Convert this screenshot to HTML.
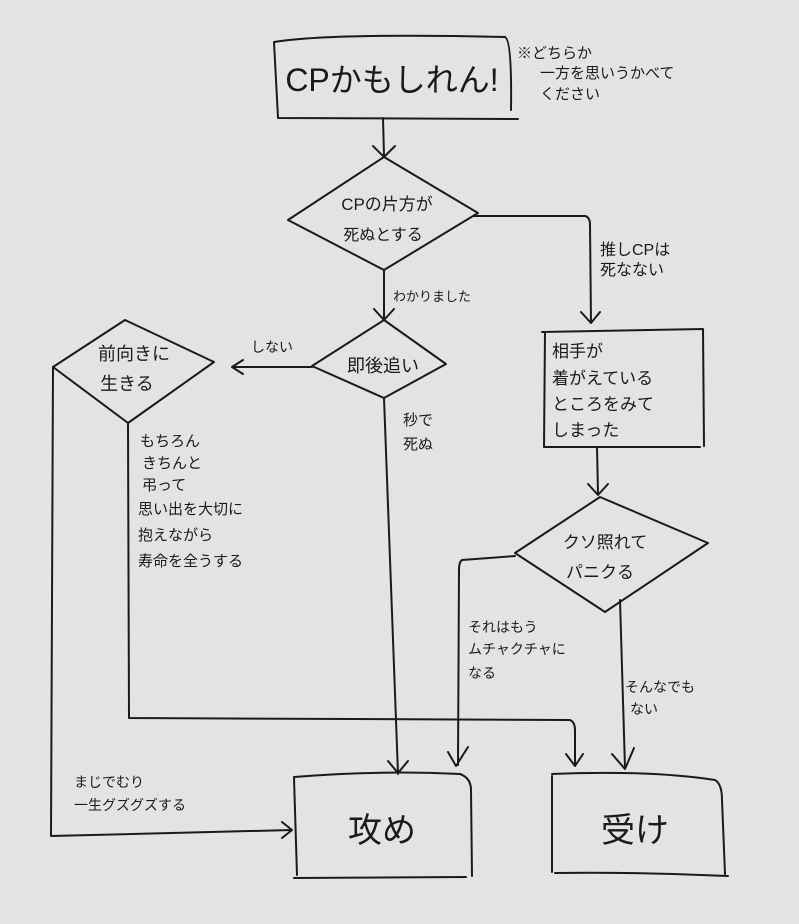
<!DOCTYPE html>
<html><head><meta charset="utf-8">
<style>
html,body{margin:0;padding:0;background:#e3e3e3;}
svg{display:block;}
text{font-family:"Liberation Sans","Noto Sans CJK JP",sans-serif;fill:#1a1a1a;}
</style></head>
<body>
<svg width="799" height="924" viewBox="0 0 799 924" xmlns="http://www.w3.org/2000/svg">
<rect width="799" height="924" fill="#e3e3e3"/>
<g fill="none" stroke="#1a1a1a" stroke-width="2" stroke-linecap="round" stroke-linejoin="round">
<!-- top box -->
<path d="M278,118 L274,42 Q330,33 505,37 Q512,40 511,110 M278,118 L518,119"/>
<!-- arrow to diamond1 -->
<path d="M383,118 L384,156 M373,146 L384,157 L395,146"/>
<!-- diamond1 -->
<path d="M384,157 L288,220 L384,270 L478,213 Z"/>
<!-- right branch -->
<path d="M474,216 L585,216 Q590,217 590,225 L591,322 M581,312 L591,323 L600,312"/>
<!-- down to diamond2 -->
<path d="M384,270 L384,319 M374,309 L384,320 L394,309"/>
<!-- diamond2 -->
<path d="M384,320 L312,366 L384,398 L446,364 Z"/>
<!-- shinai arrow -->
<path d="M312,367 L232,367 M243,360 L232,367 L243,374"/>
<!-- diamond3 -->
<path d="M125,320 L53,367 L128,423 L214,362 Z"/>
<!-- diamond2 down to seme -->
<path d="M384,398 L398,774 M388,761 L398,773 L408,761"/>
<!-- left line -->
<path d="M53,367 L51,836 L292,830 M282,822 L292,830 L282,838"/>
<!-- mid line from diamond3 -->
<path d="M128,423 L129,718 L570,720 Q575,722 575,730 L575,765 M566,754 L575,766 L583,754"/>
<!-- box aite -->
<path d="M542,332 L703,329 L704,446 M545,332 L544,447 L700,447"/>
<!-- arrow to diamond4 -->
<path d="M597,447 L598,494 M588,484 L598,495 L608,484"/>
<!-- diamond4 -->
<path d="M600,497 L515,553 L605,612 L708,543 Z"/>
<!-- left from diamond4 -->
<path d="M515,556 L462,560 Q459,562 459,570 L458,765 M448,752 L456,766 L468,747"/>
<!-- down from diamond4 -->
<path d="M620,600 L625,768 M612,754 L625,769 L634,748"/>
<!-- seme box -->
<path d="M294,778 L297,875 M294,777 Q380,770 460,774 Q471,778 471,790 L472,876 M294,878 L466,877"/>
<!-- uke box -->
<path d="M552,776 L552,872 M552,774 Q650,770 715,780 Q722,784 722,800 L725,874 M555,873 Q640,872 728,876"/>
</g>
<text x="392" y="91" font-size="32" text-anchor="middle">CPかもしれん!</text>
<text x="517" y="58" font-size="15">※どちらか</text>
<text x="540" y="78" font-size="15">一方を思いうかべて</text>
<text x="540" y="99" font-size="15">ください</text>
<text x="387" y="210" font-size="17" text-anchor="middle">CPの片方が</text>
<text x="383" y="240" font-size="16" text-anchor="middle">死ぬとする</text>
<text x="600" y="255" font-size="16">推しCPは</text>
<text x="600" y="275" font-size="16">死なない</text>
<text x="393" y="301" font-size="13">わかりました</text>
<text x="383" y="372" font-size="18" text-anchor="middle">即後追い</text>
<text x="251" y="352" font-size="14">しない</text>
<text x="134" y="360" font-size="18" text-anchor="middle">前向きに</text>
<text x="127" y="390" font-size="18" text-anchor="middle">生きる</text>
<text x="403" y="425" font-size="15">秒で</text>
<text x="403" y="449" font-size="15">死ぬ</text>
<g font-size="15">
<text x="140" y="446">もちろん</text>
<text x="142" y="468">きちんと</text>
<text x="142" y="490">弔って</text>
<text x="138" y="514">思い出を大切に</text>
<text x="138" y="540">抱えながら</text>
<text x="138" y="566">寿命を全うする</text>
</g>
<g font-size="17">
<text x="552" y="357">相手が</text>
<text x="552" y="384">着がえている</text>
<text x="552" y="410">ところをみて</text>
<text x="552" y="436">しまった</text>
</g>
<text x="605" y="548" font-size="17" text-anchor="middle">クソ照れて</text>
<text x="600" y="578" font-size="17" text-anchor="middle">パニクる</text>
<g font-size="14">
<text x="468" y="632">それはもう</text>
<text x="468" y="654">ムチャクチャに</text>
<text x="468" y="678">なる</text>
<text x="625" y="692">そんなでも</text>
<text x="630" y="714">ない</text>
<text x="74" y="787">まじでむり</text>
<text x="74" y="810">一生グズグズする</text>
</g>
<text x="382" y="842" font-size="34" text-anchor="middle">攻め</text>
<text x="635" y="842" font-size="34" text-anchor="middle">受け</text>
</svg>
</body></html>
